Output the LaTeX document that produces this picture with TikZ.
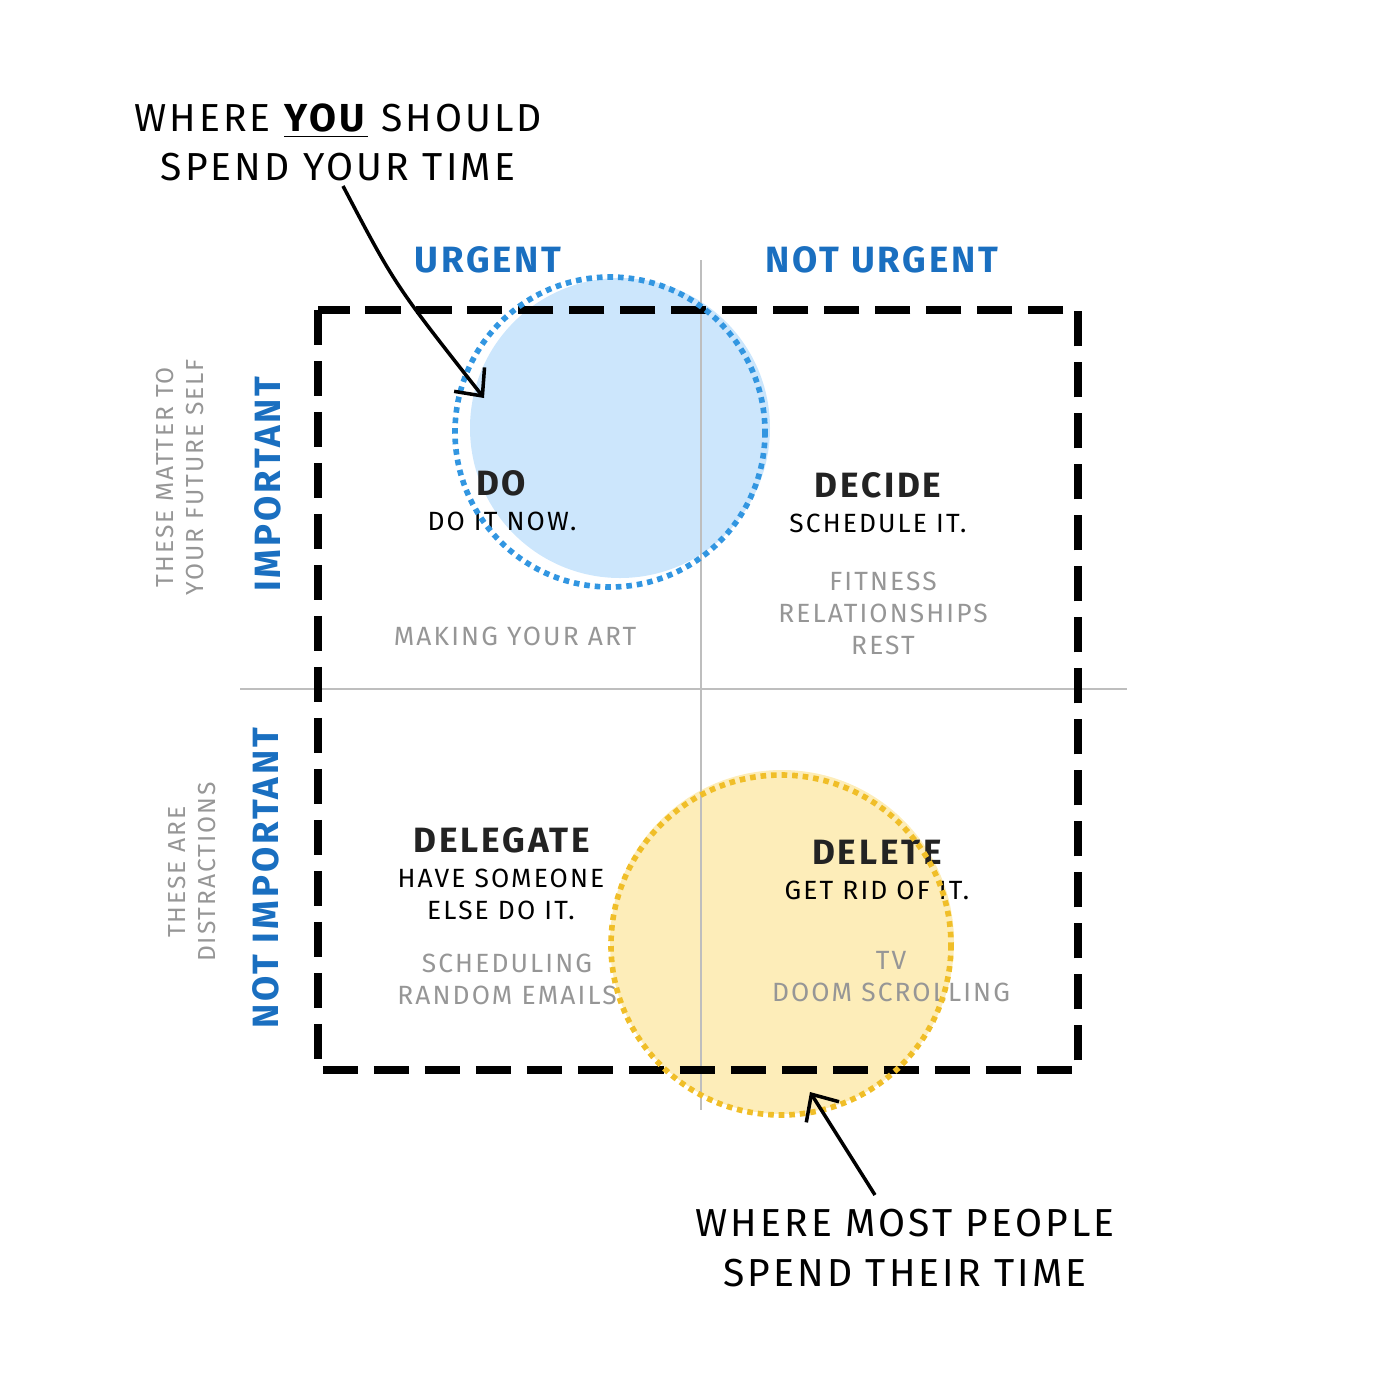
\documentclass[tikz,border=0pt]{standalone}
\usepackage{fontspec}
\setmainfont{Fira Sans}
\newfontfamily\handfont[LetterSpace=8]{Fira Sans}
\usetikzlibrary{arrows.meta}

\definecolor{labelblue}{RGB}{26,111,192}
\definecolor{notegray}{RGB}{150,150,150}
\definecolor{axisgray}{RGB}{190,190,190}
\definecolor{inkdark}{RGB}{35,35,35}
\definecolor{dofill}{RGB}{204,230,252}
\definecolor{dodots}{RGB}{50,150,225}
\definecolor{delfill}{RGB}{253,237,185}
\definecolor{deldots}{RGB}{240,190,40}

\begin{document}
\begin{tikzpicture}[x=0.01cm,y=-0.01cm,
  axis/.style={draw=axisgray,line width=0.6pt},
  matrixbox/.style={draw=black,line width=2.3pt,dash pattern=on 10pt off 4.5pt},
  dotring/.style={line width=1.6pt,dash pattern=on 1.6pt off 1.4pt},
  calltext/.style={inner sep=0pt,align=center,text=black,
    font=\handfont\fontsize{11.1}{14}\selectfont},
  axislabel/.style={inner sep=0pt,text=labelblue,
    font=\handfont\bfseries\fontsize{10.4}{12}\selectfont},
  sidenote/.style={inner sep=0pt,align=center,text=notegray,rotate=90,
    font=\handfont\fontsize{7}{8.5}\selectfont},
  quadhead/.style={inner sep=0pt,text=inkdark,
    font=\handfont\bfseries\fontsize{10}{12}\selectfont},
  quadbody/.style={inner sep=0pt,align=center,text=black,
    font=\handfont\fontsize{7.5}{9.1}\selectfont},
  example/.style={inner sep=0pt,align=center,text=notegray,
    font=\handfont\fontsize{7.5}{9.1}\selectfont},
  callout/.style={draw=black,line width=1pt,-{Straight Barb[length=6pt,width=11pt,line width=1pt]}}]

\useasboundingbox (0,0) rectangle (1378,1387);

% Circle fills
\fill[dofill] (620,428) circle[radius=150];
\fill[delfill] (782,942) circle[radius=172];

% Axes
\draw[axis] (701,260) -- (701,1110);
\draw[axis] (240,689) -- (1127,689);

% Matrix frame
\draw[matrixbox] (318,310) rectangle (1078,1070);

% Axis labels
\node[axislabel] (urgent) at (488,260) {URGENT};
\node[axislabel] (noturgent) at (882,260) {NOT URGENT};
\node[axislabel,rotate=90] (important) at (268,484) {IMPORTANT};
\node[axislabel,rotate=90] (notimportant) at (266,878) {NOT IMPORTANT};

% Side notes
\node[sidenote] (futureself) at (180,477) {THESE MATTER TO\\YOUR FUTURE SELF};
\node[sidenote] (distract) at (192,872) {THESE ARE\\DISTRACTIONS};

% Do
\node[quadhead] (do) at (501,483) {DO};
\node[quadbody] (dobody) at (502,521) {DO IT NOW.};
\node[example] (doex) at (515,636) {MAKING YOUR ART};

% Decide
\node[quadhead] (decide) at (878,485) {DECIDE};
\node[quadbody] (decidebody) at (878,523) {SCHEDULE IT.};
\node[example] (decideex) at (883,613) {FITNESS\\RELATIONSHIPS\\REST};

% Delegate
\node[quadhead] (delegate) at (502,840) {DELEGATE};
\node[quadbody] (delegatebody) at (501,894) {HAVE SOMEONE\\ELSE DO IT.};
\node[example] (delegateex) at (507,979) {SCHEDULING\\RANDOM EMAILS};

% Delete
\node[quadhead] (delete) at (877,852) {DELETE};
\node[quadbody] (deletebody) at (877,890) {GET RID OF IT.};
\node[example] (deleteex) at (891,977) {TV\\DOOM SCROLLING};

% Dotted rings
\draw[dotring,draw=dodots] (610,432) circle[radius=155];
\draw[dotring,draw=deldots] (781,945) circle[radius=170];

% Callouts
\node[calltext] (youtext) at (338,142) {WHERE \underline{\textbf{YOU}} SHOULD\\SPEND YOUR TIME};
\node[calltext] (mosttext) at (905,1248) {WHERE MOST PEOPLE\\SPEND THEIR TIME};
\coordinate (youstart) at (343,186);
\coordinate (youtip) at (484,398);
\coordinate (moststart) at (875,1195);
\coordinate (mosttip) at (810,1092);
\draw[callout] (youstart) .. controls (395,285) .. (youtip);
\draw[callout] (moststart) -- (mosttip);

\end{tikzpicture}
\end{document}
